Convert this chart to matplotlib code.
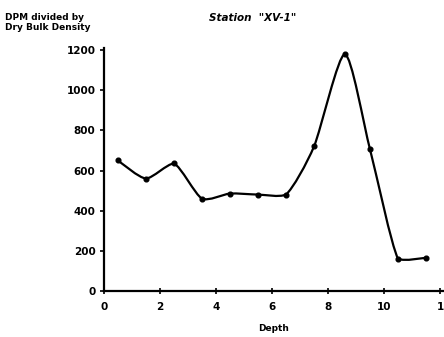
import matplotlib
import numpy as np

matplotlib.use("Agg")
import matplotlib.pyplot as plt
from matplotlib.path import Path
from matplotlib.patches import PathPatch

# values
depth = [0.5, 1.5, 2.5, 3.5, 4.5, 5.5, 6.5, 7.5, 8.6, 9.5, 10.5, 11.5]
dpm_ratio = [650, 560, 635, 460, 485, 480, 480, 720, 1180, 705, 160, 165]
xticks = [0, 2, 4, 6, 8, 10, 12]
xticklabels = ['0', '2', '4', '6', '8', '10', '1']
yticks = [0, 200, 400, 600, 800, 1000, 1200]


def smooth_path(x, y, t=0.12):
    # Catmull-Rom style cubic bezier through the measured points,
    # control points kept inside each segment's y range (no overshoot)
    x = np.asarray(x, float)
    y = np.asarray(y, float)
    verts = [(x[0], y[0])]
    codes = [Path.MOVETO]
    n = len(x)
    for i in range(n - 1):
        i0 = max(i - 1, 0)
        i3 = min(i + 2, n - 1)
        lo, hi = min(y[i], y[i + 1]), max(y[i], y[i + 1])
        if hi - lo < 30:
            lo, hi = lo - 15, hi + 15
        c1y = np.clip(y[i] + (y[i + 1] - y[i0]) * t, lo, hi)
        c2y = np.clip(y[i + 1] - (y[i3] - y[i]) * t, lo, hi)
        c1 = (x[i] + (x[i + 1] - x[i0]) * t, c1y)
        c2 = (x[i + 1] - (x[i3] - x[i]) * t, c2y)
        verts += [c1, c2, (x[i + 1], y[i + 1])]
        codes += [Path.CURVE4] * 3
    return Path(verts, codes)


def main():
    fig = plt.figure(figsize=(4.44, 3.37), dpi=100)
    ax = fig.add_axes([0.234, 0.137, 0.766, 0.72])

    ax.add_patch(PathPatch(smooth_path(depth, dpm_ratio), facecolor='none',
                           edgecolor='black', linewidth=1.6))
    ax.plot(depth, dpm_ratio, linestyle='none', marker='o', markersize=3.4,
            color='black')

    ax.set_xlim(0, 12.14)
    ax.set_ylim(0, 1210)
    ax.set_xticks(xticks)
    ax.set_xticklabels(xticklabels)
    ax.set_yticks(yticks)
    for lab in ax.get_xticklabels() + ax.get_yticklabels():
        lab.set_fontweight('bold')
    ax.tick_params(axis='y', labelsize=7.5, direction='out', length=3,
                   width=1.2, pad=3)
    ax.tick_params(axis='x', labelsize=7.5, direction='inout', length=4,
                   width=1.2, pad=6)
    ax.spines['top'].set_visible(False)
    ax.spines['right'].set_visible(False)
    ax.spines['left'].set_linewidth(1.6)
    ax.spines['bottom'].set_linewidth(1.6)

    ax.set_xlabel('Depth', fontsize=6.5, fontweight='bold', labelpad=9)
    fig.text(0.012, 0.96, 'DPM divided by\nDry Bulk Density', fontsize=6.5,
             fontweight='bold', va='top', ha='left', linespacing=1.1)
    fig.text(0.57, 0.96, 'Station  "XV-1"', fontsize=7.5, fontweight='bold',
             fontstyle='italic', va='top', ha='center')

    fig.savefig('out.png', dpi=100)


if __name__ == "__main__":
    main()
